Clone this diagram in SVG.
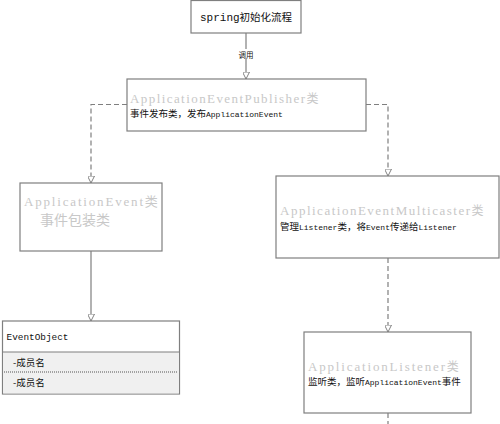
<svg xmlns="http://www.w3.org/2000/svg" width="500" height="424" viewBox="0 0 500 424">
<defs>
<style>
.box{fill:#ffffff;stroke:#7f7f7f;stroke-width:1.2}
.ln{fill:none;stroke:#7f7f7f;stroke-width:1.2}
.dash{stroke-dasharray:5,3}
.mono{font-family:"Liberation Mono","Noto Sans CJK SC",monospace}
.serif{font-family:"Liberation Serif","Noto Sans CJK SC",serif}
.title{fill:#c8c8c8;font-size:13px}
.sub{fill:#111111;font-size:8px}
.cjk{font-family:"Noto Sans CJK SC","Liberation Sans",sans-serif}
</style>
<marker id="tri" viewBox="0 0 10 10" refX="10" refY="5" markerWidth="7" markerHeight="7" markerUnits="userSpaceOnUse" orient="auto">
<path d="M0,0 L10,5 L0,10 Z" fill="#ffffff" stroke="#7f7f7f" stroke-width="1.4"/>
</marker>
</defs>
<rect x="0" y="0" width="500" height="424" fill="#ffffff"/>
<g id="connectors">
<line class="ln" x1="246" y1="33" x2="246" y2="79" marker-end="url(#tri)"/>
<rect x="237" y="49" width="18" height="10" fill="#ffffff"/>
<text class="cjk" x="246" y="57.5" font-size="7.5" fill="#111111" text-anchor="middle">调用</text>
<polyline class="ln dash" points="127,104.5 91,104.5 91,183" marker-end="url(#tri)"/>
<polyline class="ln dash" points="366,104.5 388,104.5 388,176" marker-end="url(#tri)"/>
<line class="ln" x1="91" y1="251" x2="91" y2="321" marker-end="url(#tri)"/>
<line class="ln dash" x1="388" y1="258" x2="388" y2="332" marker-end="url(#tri)"/>
<line class="ln dash" x1="388" y1="413" x2="388" y2="424"/>
</g>
<g id="node-spring">
<rect class="box" x="191" y="0.5" width="110" height="32.5"/>
<text class="mono" x="200" y="21" font-size="11" fill="#111111">spring<tspan class="cjk" font-size="10.5">初始化流程</tspan></text>
</g>
<g id="node-publisher">
<rect class="box" x="127" y="79" width="239" height="52"/>
<text class="serif title" x="130" y="103"><tspan textLength="175" lengthAdjust="spacing">ApplicationEventPublisher</tspan><tspan class="cjk" font-size="12">类</tspan></text>
<text class="mono sub" x="130" y="116.5"><tspan class="cjk" font-size="9.5">事件发布类，发布</tspan>ApplicationEvent</text>
</g>
<g id="node-event">
<rect class="box" x="20" y="183" width="142" height="68"/>
<text class="serif title" x="24" y="206" font-size="14"><tspan textLength="119" lengthAdjust="spacing">ApplicationEvent</tspan><tspan class="cjk" font-size="13">类</tspan></text>
<text class="cjk" x="40" y="224.5" font-size="14" fill="#c8c8c8">事件包装类</text>
</g>
<g id="node-eventobject">
<rect class="box" x="2.5" y="321" width="177" height="73"/>
<rect x="3.1" y="352" width="175.8" height="41.4" fill="#f0f0f0"/>
<line class="ln" x1="2.5" y1="352" x2="179.5" y2="352"/>
<line x1="4" y1="372" x2="178" y2="372" stroke="#555555" stroke-width="1" stroke-dasharray="1,1"/>
<text class="mono" x="6.5" y="339.5" font-size="9.4" fill="#111111">EventObject</text>
<text class="cjk" x="13" y="365.5" font-size="9.5" fill="#111111">-成员名</text>
<text class="cjk" x="13" y="385.5" font-size="9.5" fill="#111111">-成员名</text>
</g>
<g id="node-multicaster">
<rect class="box" x="276" y="176" width="223" height="82"/>
<text class="serif title" x="280" y="215"><tspan textLength="190" lengthAdjust="spacing">ApplicationEventMulticaster</tspan><tspan class="cjk" font-size="12">类</tspan></text>
<text class="mono sub" x="280" y="229.5"><tspan class="cjk" font-size="9.5">管理</tspan>Listener<tspan class="cjk" font-size="9.5">类，将</tspan>Event<tspan class="cjk" font-size="9.5">传递给</tspan>Listener</text>
</g>
<g id="node-listener">
<rect class="box" x="304" y="332" width="167" height="81"/>
<text class="serif title" x="308" y="371"><tspan textLength="137" lengthAdjust="spacing">ApplicationListener</tspan><tspan class="cjk" font-size="12">类</tspan></text>
<text class="mono sub" x="308" y="384.5"><tspan class="cjk" font-size="9.5">监听类，监听</tspan>ApplicationEvent<tspan class="cjk" font-size="9.5">事件</tspan></text>
</g>
</svg>
